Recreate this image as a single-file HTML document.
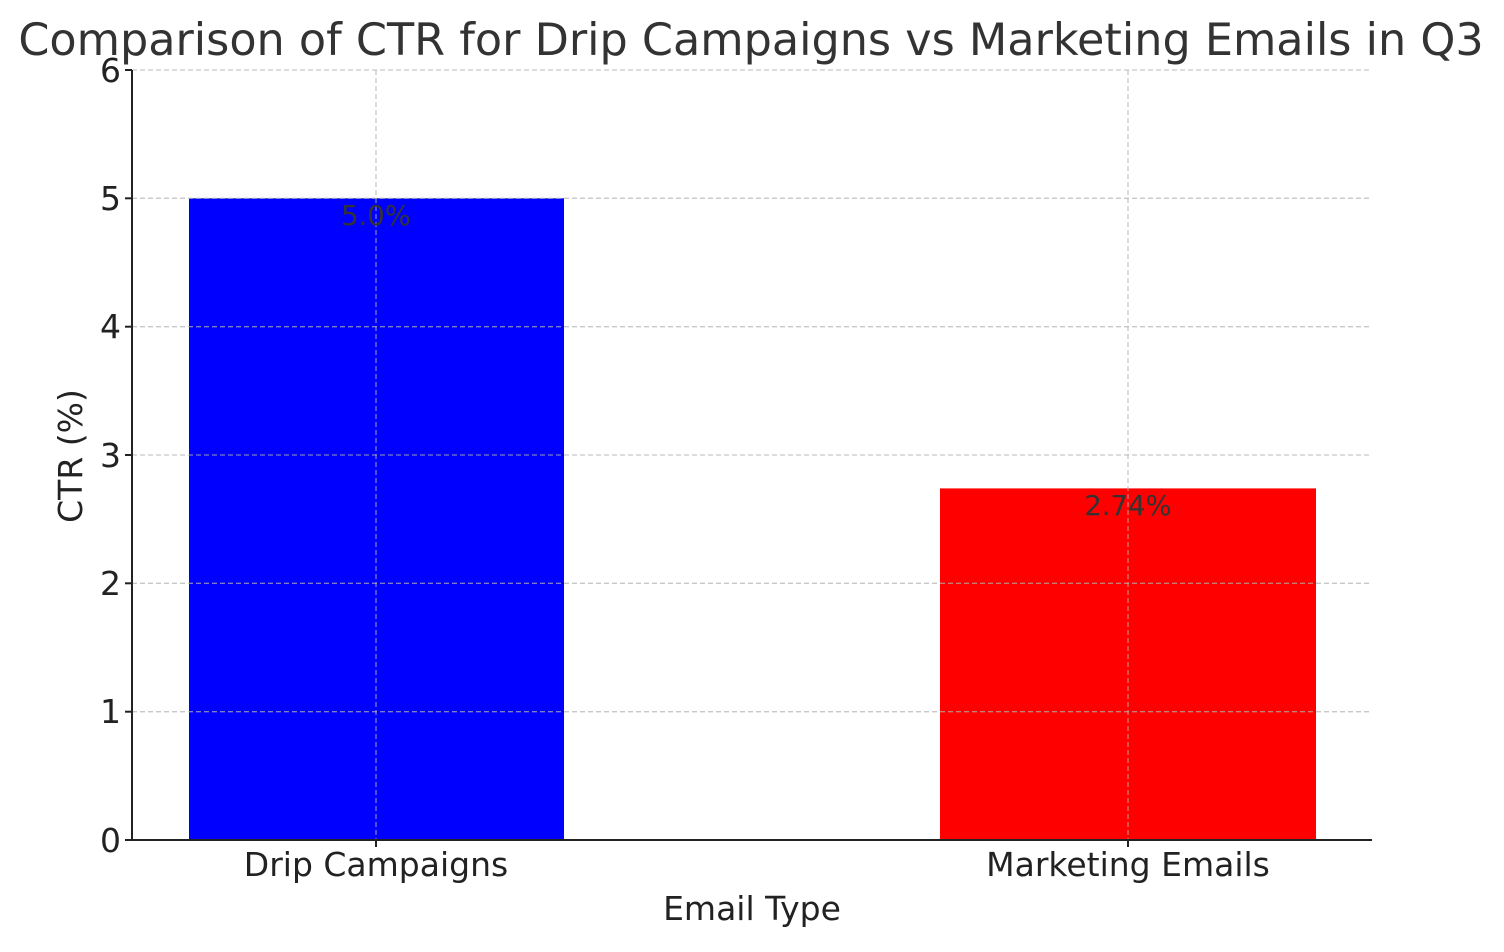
<!DOCTYPE html>
<html><head><meta charset="utf-8"><style>
html,body{margin:0;padding:0;background:#fff;}
svg text{font-family:"DejaVu Sans","Liberation Sans",sans-serif;}
</style></head><body>
<svg width="1504" height="947" xmlns="http://www.w3.org/2000/svg">
<rect width="1504" height="947" fill="#fff"/>
<rect x="189" y="198.3" width="375" height="641.7" fill="#0000ff"/>
<rect x="940" y="488.4" width="376" height="351.6" fill="#ff0000"/>
<g stroke="#b0b0b0" stroke-opacity="0.7" stroke-width="1.3" stroke-dasharray="5,3">
<line x1="132" x2="1372" y1="70" y2="70"/>
<line x1="132" x2="1372" y1="198.3" y2="198.3"/>
<line x1="132" x2="1372" y1="326.7" y2="326.7"/>
<line x1="132" x2="1372" y1="455" y2="455"/>
<line x1="132" x2="1372" y1="583.3" y2="583.3"/>
<line x1="132" x2="1372" y1="711.7" y2="711.7"/>
<line x1="376" x2="376" y1="70" y2="840"/>
<line x1="1128" x2="1128" y1="70" y2="840"/>
</g>
<g stroke="#222" stroke-width="2">
<line x1="132" y1="70" x2="132" y2="841"/>
<line x1="131" y1="840" x2="1372" y2="840"/>
<line x1="125" x2="132" y1="70" y2="70"/>
<line x1="125" x2="132" y1="198.3" y2="198.3"/>
<line x1="125" x2="132" y1="326.7" y2="326.7"/>
<line x1="125" x2="132" y1="455" y2="455"/>
<line x1="125" x2="132" y1="583.3" y2="583.3"/>
<line x1="125" x2="132" y1="711.7" y2="711.7"/>
<line x1="125" x2="132" y1="840" y2="840"/>
<line x1="376" x2="376" y1="840" y2="847"/>
<line x1="1128" x2="1128" y1="840" y2="847"/>
</g>
<g font-size="33" fill="#222" text-anchor="end">
<text x="121" y="82">6</text>
<text x="121" y="210">5</text>
<text x="121" y="338">4</text>
<text x="121" y="467">3</text>
<text x="121" y="595">2</text>
<text x="121" y="723">1</text>
<text x="121" y="852">0</text>
</g>
<g font-size="33" fill="#222" text-anchor="middle">
<text x="376" y="876">Drip Campaigns</text>
<text x="1128" y="876">Marketing Emails</text>
<text x="752" y="920">Email Type</text>
</g>
<text transform="translate(82,456) rotate(-90)" font-size="33" fill="#222" text-anchor="middle">CTR (%)</text>
<text x="751" y="55" font-size="44.5" fill="#333" text-anchor="middle">Comparison of CTR for Drip Campaigns vs Marketing Emails in Q3</text>
<g font-size="27.5" fill="#333" text-anchor="middle">
<text x="376" y="225">5.0%</text>
<text x="1128" y="515">2.74%</text>
</g>
</svg>
</body></html>
